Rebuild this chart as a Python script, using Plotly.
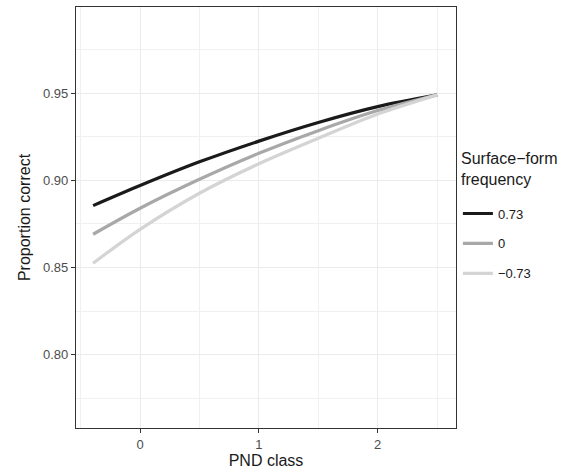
import plotly.graph_objects as go

# PND class values at which the model predictions are shown
pnd_class = [-0.395, 0.0, 0.5, 1.0, 1.5, 2.0, 2.5]

# Predicted proportion correct for each surface-form frequency level
pred_high = [0.8855, 0.8970, 0.9106, 0.9225, 0.9332, 0.9423, 0.9490]
pred_mid = [0.8691, 0.8840, 0.9006, 0.9155, 0.9285, 0.9400, 0.9490]
pred_low = [0.8525, 0.8719, 0.8926, 0.9095, 0.9241, 0.9380, 0.9490]

freq_labels = ["0.73", "0", "\u22120.73"]
freq_colors = ["#1a1a1a", "#a8a8a8", "#d4d4d4"]
legend_title = "Surface\u2212form<br>frequency"

y_ticks = [0.80, 0.85, 0.90, 0.95]
x_ticks = [0, 1, 2]

FONT = "Liberation Sans, Arial, Helvetica, sans-serif"

fig = go.Figure()
for i, (lab, col, vals) in enumerate(zip(freq_labels, freq_colors, [pred_high, pred_mid, pred_low])):
    fig.add_trace(go.Scatter(
        x=pnd_class, y=vals, mode="lines", name=lab,
        line=dict(color=col, width=3.2, shape="spline", smoothing=0.8),
        legendgroup=f"g{i}",
    ))

axis_common = dict(
    showline=True, linecolor="#333333", linewidth=1.3, mirror=True,
    ticks="outside", ticklen=4, tickwidth=1.2, tickcolor="#333333",
    tickfont=dict(size=13, color="#4d4d4d", family=FONT),
    showgrid=True, gridcolor="#ebebeb", gridwidth=1.3,
    minor=dict(showgrid=True, gridcolor="#f0f0f0", gridwidth=0.8, ticks=""),
    zeroline=False,
)

fig.update_xaxes(
    range=[-0.539, 2.659], tickvals=x_ticks,
    minor_tickvals=[-0.5, 0.5, 1.5, 2.5],
    title=dict(text="PND class", font=dict(size=16, color="#1a1a1a", family=FONT), standoff=4),
    **axis_common,
)
fig.update_yaxes(
    range=[0.758, 0.9994], tickvals=y_ticks, tickformat=".2f",
    minor_tickvals=[0.775, 0.825, 0.875, 0.925, 0.975],
    title=dict(text="Proportion correct", font=dict(size=16, color="#1a1a1a", family=FONT), standoff=8),
    **axis_common,
)

# Legend title drawn as its own text block above the legend entries
fig.add_annotation(
    text=legend_title, xref="paper", yref="paper",
    x=1.011, y=0.662, xanchor="left", yanchor="top", align="left",
    showarrow=False, borderpad=0,
    font=dict(size=16, color="#1a1a1a", family=FONT),
)

fig.update_layout(
    width=582, height=474,
    margin=dict(l=76, r=126, t=7, b=46),
    plot_bgcolor="white", paper_bgcolor="white",
    font=dict(family=FONT),
    legend=dict(
        font=dict(size=13, color="#1a1a1a", family=FONT),
        x=1.005, xanchor="left", y=0.545, yanchor="top",
        tracegroupgap=10, itemwidth=30, bgcolor="rgba(0,0,0,0)",
    ),
)

fig.write_html("out.html")
